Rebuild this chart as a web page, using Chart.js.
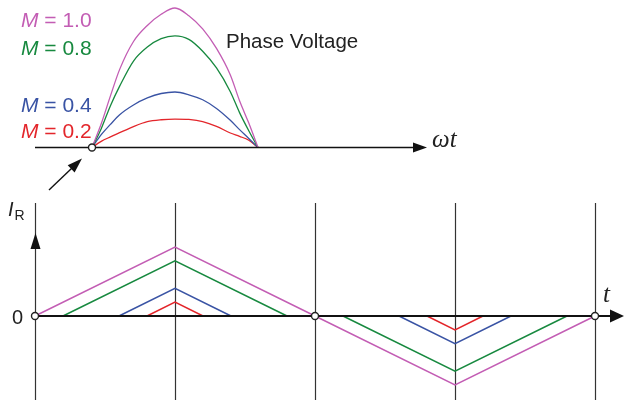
<!DOCTYPE html>
<html><head><meta charset="utf-8">
<script src="https://cdn.jsdelivr.net/npm/chart.js@4/dist/chart.umd.min.js"></script>
<style>html,body{margin:0;padding:0;background:#fff;overflow:hidden}canvas{display:block}</style>
</head><body>
<canvas id="c" width="624" height="400"></canvas>
<script>
// ---- Top panel: phase voltage over one half cycle (electrical angle, degrees) ----
const phaseAngles = [0,10,20,30,45,60,75,90,105,120,135,150,160,170,180];
const voltM10 = [0,0.170,0.370,0.560,0.760,0.875,0.955,1.0,0.945,0.850,0.710,0.520,0.335,0.175,0];
const voltM08 = [0,0.135,0.300,0.440,0.620,0.720,0.780,0.800,0.775,0.690,0.570,0.400,0.250,0.120,0];
const voltM04 = [0,0.092,0.166,0.235,0.305,0.355,0.387,0.398,0.378,0.342,0.280,0.195,0.128,0.065,0];
const voltM02 = [0,0.044,0.076,0.106,0.150,0.185,0.199,0.204,0.201,0.186,0.152,0.104,0.080,0.052,0];
const modLabels = ['1.0','0.8','0.4','0.2'];

// ---- Bottom panel: ripple current I_R versus time (grid at every half period) ----
const timeTicks = [0,1,2,3,4];
const timeM10 = [0,1,2,3,4];
const currM10 = [0,1,0,-1,0];
const timeM08 = [0.2,1,1.8,2,2.2,3,3.8];
const currM08 = [0,0.8,0,null,0,-0.8,0];
const timeM04 = [0.6,1,1.4,2,2.6,3,3.4];
const currM04 = [0,0.4,0,null,0,-0.4,0];
const timeM02 = [0.8,1,1.2,2,2.8,3,3.2];
const currM02 = [0,0.2,0,null,0,-0.2,0];

const colors = ['#c35db4','#17893f','#3953a4','#e3262b'];

const pts = (xs, ys) => xs.map((x, i) => ({x, y: ys[i]}));

const topSets = [voltM10, voltM08, voltM04, voltM02].map((v, i) => ({
  label: 'V M=' + modLabels[i], data: pts(phaseAngles, v), xAxisID: 'xTop', yAxisID: 'yTop',
  borderColor: colors[i], borderWidth: 1.3, pointRadius: 0, fill: false,
  cubicInterpolationMode: 'monotone'
}));
const botSets = [[timeM10, currM10],[timeM08, currM08],[timeM04, currM04],[timeM02, currM02]].map((p, i) => ({
  label: 'I M=' + modLabels[i], data: pts(p[0], p[1]), xAxisID: 'xBot', yAxisID: 'yBot',
  borderColor: colors[i], borderWidth: 1.5, pointRadius: 0, fill: false, tension: 0, spanGaps: false
}));

function arrowHead(ctx, tx, ty, ang, len, half) {
  ctx.beginPath();
  ctx.moveTo(tx, ty);
  ctx.lineTo(tx - len*Math.cos(ang) + half*Math.sin(ang), ty - len*Math.sin(ang) - half*Math.cos(ang));
  ctx.lineTo(tx - len*Math.cos(ang) - half*Math.sin(ang), ty - len*Math.sin(ang) + half*Math.cos(ang));
  ctx.closePath(); ctx.fill();
}
function circ(ctx, x, y) {
  ctx.beginPath(); ctx.arc(x, y, 3.5, 0, Math.PI*2);
  ctx.fillStyle = '#fff'; ctx.fill();
  ctx.lineWidth = 1.4; ctx.strokeStyle = '#222'; ctx.stroke();
}

const deco = {
  id: 'deco',
  beforeDatasetsDraw(chart) {
    const {ctx, scales: {xBot, yBot}} = chart;
    ctx.save();
    ctx.strokeStyle = '#333'; ctx.lineWidth = 1.2;
    timeTicks.forEach(t => {
      const x = Math.round(xBot.getPixelForValue(t)) + 0.5;
      ctx.beginPath(); ctx.moveTo(x, 203); ctx.lineTo(x, 400); ctx.stroke();
    });
    ctx.restore();
  },
  afterDatasetsDraw(chart) {
    const {ctx, scales: {xTop, yTop, xBot, yBot}} = chart;
    ctx.save();
    ctx.fillStyle = '#111'; ctx.strokeStyle = '#111';
    // top axis
    const y0t = yTop.getPixelForValue(0);
    ctx.lineWidth = 1.6;
    ctx.beginPath(); ctx.moveTo(35, y0t); ctx.lineTo(415, y0t); ctx.stroke();
    arrowHead(ctx, 427, y0t, 0, 14, 5);
    // bottom zero axis
    const y0b = yBot.getPixelForValue(0);
    const x0b = xBot.getPixelForValue(0);
    ctx.lineWidth = 2;
    ctx.beginPath(); ctx.moveTo(x0b - 2, y0b); ctx.lineTo(611, y0b); ctx.stroke();
    arrowHead(ctx, 624, y0b, 0, 14, 6.5);
    // I_R axis arrow
    arrowHead(ctx, x0b + 0.5, 233, -Math.PI/2, 16, 5);
    // pointer arrow
    const ax = 49, ay = 190, bx = 82, by = 158.5;
    const ang = Math.atan2(by - ay, bx - ax);
    ctx.lineWidth = 1.4;
    ctx.beginPath(); ctx.moveTo(ax, ay); ctx.lineTo(bx - 12*Math.cos(ang), by - 12*Math.sin(ang)); ctx.stroke();
    arrowHead(ctx, bx, by, ang, 15, 5);
    // circles
    circ(ctx, xTop.getPixelForValue(0), y0t);
    [0, 2, 4].forEach(t => circ(ctx, xBot.getPixelForValue(t), y0b));
    // texts
    ctx.textBaseline = 'alphabetic'; ctx.textAlign = 'left';
    const baseY = [26.5, 54.5, 111.5, 138];
    modLabels.forEach((m, i) => {
      ctx.fillStyle = colors[i];
      ctx.font = 'italic 21px "Liberation Sans", Arial, sans-serif';
      ctx.fillText('M', 21, baseY[i]);
      const w = ctx.measureText('M').width;
      ctx.font = '21px "Liberation Sans", Arial, sans-serif';
      ctx.fillText(' = ' + m, 21 + w, baseY[i]);
    });
    ctx.fillStyle = '#222';
    ctx.font = '20.5px "Liberation Sans", Arial, sans-serif';
    ctx.fillText('Phase Voltage', 226, 48);
    ctx.font = 'italic 25px "Liberation Serif", "Times New Roman", serif';
    ctx.fillText('\u03C9t', 432, 147);
    ctx.fillText('t', 603, 301.5);
    ctx.font = '20px "Liberation Sans", Arial, sans-serif';
    ctx.fillText('0', 12, 324);
    ctx.font = 'italic 20px "Liberation Sans", Arial, sans-serif';
    ctx.fillText('I', 8, 216);
    ctx.font = '14px "Liberation Sans", Arial, sans-serif';
    ctx.fillText('R', 14.5, 220);
    ctx.restore();
  }
};

new Chart(document.getElementById('c'), {
  type: 'line',
  data: { datasets: [...topSets, ...botSets] },
  options: {
    responsive: false, animation: false, devicePixelRatio: 1,
    layout: { padding: 0 },
    plugins: { legend: { display: false }, tooltip: { enabled: false } },
    scales: {
      xTop: { type: 'linear', display: false, bounds: 'data', min: -99.76, max: 576.87 },
      yTop: { type: 'linear', display: false, bounds: 'data', min: -1.810, max: 1.0573 },
      xBot: { type: 'linear', display: false, bounds: 'data', min: -0.25, max: 4.2071 },
      yBot: { type: 'linear', display: false, bounds: 'data', min: -1.2174, max: 4.5797 }
    }
  },
  plugins: [deco]
});
</script>
</body></html>
